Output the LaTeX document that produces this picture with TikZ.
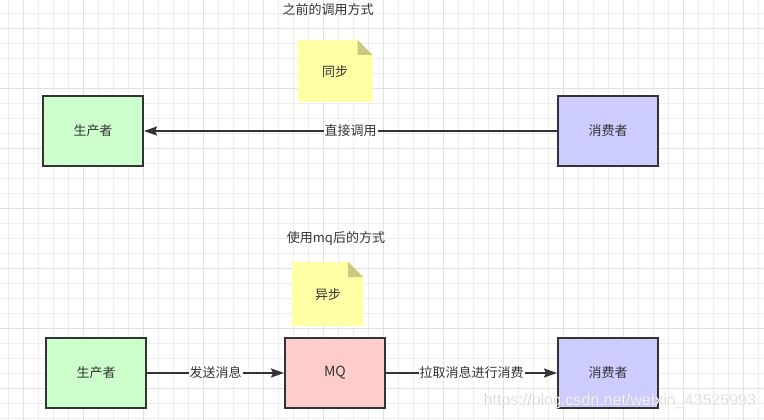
\documentclass[tikz,border=0pt]{standalone}
\usepackage{fontspec}
\setmainfont{Noto Sans CJK SC}
\newfontfamily\wmfont{Liberation Sans}
\usetikzlibrary{arrows.meta}
\definecolor{txt}{HTML}{333333}
\definecolor{gminor}{HTML}{EDEDED}
\definecolor{gmajor}{HTML}{E0E0E0}
\definecolor{cgreen}{HTML}{CCFFCC}
\definecolor{cblue}{HTML}{CCCCFF}
\definecolor{cred}{HTML}{FFCCCC}
\definecolor{notefill}{HTML}{FFFFA6}
\definecolor{notefold}{HTML}{CACA7C}
\begin{document}
\begin{tikzpicture}[x=1pt,y=-1pt,
  every node/.style={text=txt,font=\fontsize{13}{15}\selectfont},
  box/.style={draw=txt,line width=2pt,minimum width=100pt,minimum height=70pt,inner sep=0pt},
  conn/.style={draw=txt,line width=2pt,-{Stealth[length=13pt,width=9pt,inset=2pt]}},
  lbl/.style={fill=white,inner sep=1pt},
  notebg/.style={fill=notefill,draw=none},
  foldc/.style={fill=notefold,draw=none},
  wm/.style={font=\wmfont\fontsize{16}{18}\selectfont}]
\useasboundingbox (0,0) rectangle (764,420);
\fill[white] (0,0) rectangle (764,420);
% grid
\foreach \i in {0,...,50} {\draw[gminor,line width=1pt] (8.3+15*\i,0) -- (8.3+15*\i,420);}
\foreach \i in {0,...,27} {\draw[gminor,line width=1pt] (0,13.3+15*\i) -- (764,13.3+15*\i);}
\foreach \i in {0,...,12} {\draw[gmajor,line width=1pt] (23.3+60*\i,0) -- (23.3+60*\i,420);}
\foreach \i in {0,...,6} {\draw[gmajor,line width=1pt] (0,28.3+60*\i) -- (764,28.3+60*\i);}
% titles
\node (t1) at (328,10) {之前的调用方式};
\node (t2) at (336,238) {使用mq后的方式};
% notes
\fill[notebg] (297.5,40) -- (357.5,40) -- (372.5,55) -- (372.5,102) -- (297.5,102) -- cycle;
\fill[foldc] (357.5,40) -- (357.5,55) -- (372.5,55) -- cycle;
\node (n1) at (335,71.5) {同步};
\fill[notebg] (292,262) -- (348,262) -- (363,277) -- (363,326) -- (292,326) -- cycle;
\fill[foldc] (348,262) -- (348,277) -- (363,277) -- cycle;
\node (n2) at (328,295) {异步};
% boxes
\node[box,fill=cgreen] (p1) at (93,131) {生产者};
\node[box,fill=cblue] (c1) at (608,131) {消费者};
\node[box,fill=cgreen] (p2) at (96,373) {生产者};
\node[box,fill=cred] (mq) at (335,373) {\fontsize{14}{16}\selectfont MQ};
\node[box,fill=cblue] (c2) at (608,373) {消费者};
% connectors
\draw[conn] (c1) -- node[lbl] {直接调用} (p1);
\draw[conn] (p2) -- node[lbl] {发送消息} (mq);
\draw[conn] (mq) -- node[lbl] {拉取消息进行消费} (c2);
% watermark
\node[wm,text=black!22] (wmshadow) at (619.6,401.6) {https://blog.csdn.net/weixin\_43525993};
\node[wm,text=white,text opacity=0.75] (wm) at (619,401) {https://blog.csdn.net/weixin\_43525993};
\end{tikzpicture}
\end{document}
